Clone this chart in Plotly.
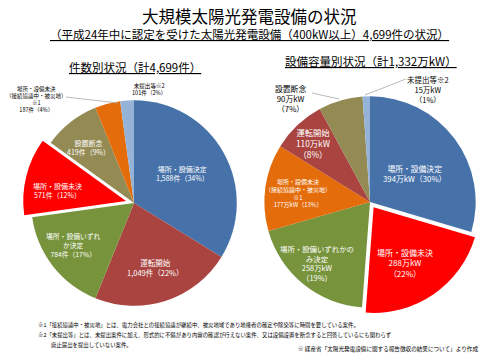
import plotly.graph_objects as go

W, H = 500, 358
FONT = "Noto Sans CJK JP"

# ---- data ----
left_names = ["場所・設備決定", "運転開始", "場所・設備いずれか決定", "場所・設備未決",
              "設置断念", "場所・設備未決（接続協議中・被災地）※1", "未提出等※2"]
left_values = [1588, 1049, 784, 571, 419, 187, 101]
left_pct = [34, 22, 17, 12, 9, 4, 2]

right_names = ["場所・設備決定", "場所・設備未決", "場所・設備いずれかのみ決定",
               "場所・設備未決（接続協議中・被災地）※1", "運転開始", "設置断念", "未提出等※2"]
right_values = [394, 288, 258, 177, 110, 90, 15]
right_pct = [30, 22, 19, 13, 8, 7, 1]

left_colors = ["#4672A9", "#A94441", "#77933C", "#FF0000", "#948A54", "#E46C0A", "#95B3D7"]
right_colors = ["#4672A9", "#FF0000", "#77933C", "#E46C0A", "#A94441", "#948A54", "#95B3D7"]

def px(x):
    return x / W

def py(y):
    return 1 - y / H

fig = go.Figure()
fig.add_trace(go.Pie(
    labels=left_names, values=left_values, sort=False, direction="clockwise",
    rotation=0, marker=dict(colors=left_colors, line=dict(width=0)),
    pull=[0, 0, 0, 0.08, 0, 0, 0], textinfo="none", hoverinfo="skip",
    domain=dict(x=[px(23), px(245)], y=[py(314), py(92)]), showlegend=False,
))
fig.add_trace(go.Pie(
    labels=right_names, values=right_values, sort=False, direction="clockwise",
    rotation=0, marker=dict(colors=right_colors, line=dict(width=0)),
    pull=[0, 0.06, 0, 0, 0, 0, 0], textinfo="none", hoverinfo="skip",
    domain=dict(x=[px(258), px(482)], y=[py(314), py(90)]), showlegend=False,
))

ann = []

def add(text, x, y, size, color="white", align="center", xanchor="center"):
    ann.append(dict(text=text, x=px(x), y=py(y), xref="paper", yref="paper",
                    showarrow=False, align=align, xanchor=xanchor, yanchor="middle",
                    font=dict(family=FONT, size=size, color=color)))

# titles
add("大規模太陽光発電設備の状況", 249, 16, 16.5, "black")
add("<u>（平成24年中に認定を受けた太陽光発電設備（400kW以上）4,699件の状況）</u>", 249, 34, 11.5, "black")
add(f"<u>件数別状況（計{sum(left_values):,}件）</u>", 135, 67, 11.5, "black")
add(f"<u>設備容量別状況（計{sum(right_values):,}万kW）</u>", 371, 61, 11.5, "black")

# left pie labels
add(f"場所・設備決定<br>{left_values[0]:,}件（{left_pct[0]}%）", 182, 173, 7)
add(f"運転開始<br>{left_values[1]:,}件（{left_pct[1]}%）", 155, 267, 7.5)
add(f"場所・設備いずれ<br>か決定<br>{left_values[2]:,}件（{left_pct[2]}%）", 73, 245, 6.8)
add(f"場所・設備未決<br>{left_values[3]:,}件（{left_pct[3]}%）", 57, 190, 7)
add(f"設置断念<br>{left_values[4]:,}件（{left_pct[4]}%）", 88, 147, 7)
add(f"場所・設備未決<br>（接続協議中・被災地）<br>※1<br>{left_values[5]:,}件（{left_pct[5]}%）",
    36, 99, 5.5, "black")
add(f"未提出等※2<br>{left_values[6]:,}件（{left_pct[6]}%）", 149, 89, 5.6, "black")

# right pie labels
add(f"場所・設備決定<br>{right_values[0]}万kW（{right_pct[0]}%）", 414, 173, 7.8)
add(f"場所・設備未決<br>{right_values[1]}万kW<br>（{right_pct[1]}%）", 405, 263, 8)
add(f"場所・設備いずれかの<br>み決定<br>{right_values[2]}万kW<br>（{right_pct[2]}%）", 317, 263, 7.4)
add(f"場所・設備未決<br>（接続協議中・被災地）<br>※1<br>{right_values[3]}万kW（{right_pct[3]}%）",
    298, 193, 6)
add(f"運転開始<br>{right_values[4]}万kW<br>（{right_pct[4]}%）", 313, 143, 8.3)
add(f"設置断念<br>{right_values[5]}万kW<br>（{right_pct[5]}%）", 290, 98, 7.8, "black")
add(f"未提出等※2<br>{right_values[6]}万kW<br>（{right_pct[6]}%）", 428, 89, 7.5, "black")

# footnotes
add("※1「接続協議中・被災地」とは、電力会社との接続協議が継続中、被災地域であり地権者の確定や除染等に時間を要している案件。",
    36, 325, 5.4, "black", "left", "left")
add("※2「未提出等」とは、未提出案件に加え、形式的に不備があり内容の確認が行えない案件、又は設備設置を断念すると回答しているにも関わらず",
    36, 335, 5.4, "black", "left", "left")
add("廃止届出を提出していない案件。", 49, 345, 5.4, "black", "left", "left")
ann.append(dict(text="※ 経産省「太陽光発電設備に関する報告徴収の結果について」より作成",
                x=px(480), y=py(349), xref="paper", yref="paper", showarrow=False,
                xanchor="right", yanchor="middle",
                font=dict(family=FONT, size=5.6, color="black")))

# leader lines
lines = [((66, 97), (118, 103)), ((406, 79), (365, 95)), ((312, 93), (339, 99))]
shapes = [dict(type="line", xref="paper", yref="paper", x0=px(a[0]), y0=py(a[1]),
               x1=px(b[0]), y1=py(b[1]), line=dict(color="#A6A6A6", width=0.8))
          for a, b in lines]

fig.update_layout(width=W, height=H, margin=dict(l=0, r=0, t=0, b=0),
                  paper_bgcolor="white", plot_bgcolor="white",
                  annotations=ann, shapes=shapes,
                  font=dict(family=FONT))
fig.write_html("out.html", config={"displayModeBar": False},
               post_script="document.body.style.margin='0px';document.body.style.overflow='hidden';")
